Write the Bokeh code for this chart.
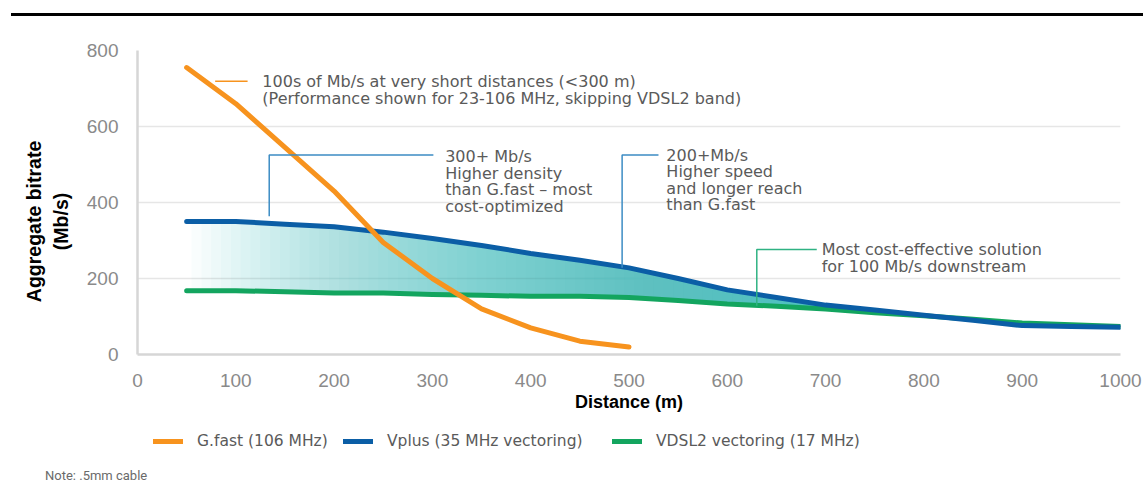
import numpy as np
from bokeh.plotting import figure
from bokeh.layouts import column
from bokeh.models import Range1d, Label, Legend, LegendItem, FixedTicker, Div
from bokeh.embed import file_html
from bokeh.resources import INLINE

# ---------------- data ----------------
distance = [50, 100, 150, 200, 250, 300, 350, 400, 450, 500,
            550, 600, 650, 700, 750, 800, 850, 900, 950, 1000]
gfast_distance = [50, 100, 150, 200, 250, 300, 350, 400, 450, 500]
gfast = [755, 660, 545, 430, 295, 200, 120, 70, 35, 20]
vplus = [350, 350, 343, 336, 322, 305, 287, 266, 248, 228,
         200, 170, 150, 130, 117, 103, 90, 76, 74, 72]
vdsl2 = [168, 168, 165, 162, 162, 158, 156, 153, 153, 150,
         142, 133, 127, 120, 110, 102, 93, 83, 78, 74]
x_ticks = [0, 100, 200, 300, 400, 500, 600, 700, 800, 900, 1000]
y_ticks = [0, 200, 400, 600, 800]
series_names = ["G.fast (106 MHz)", "Vplus (35 MHz vectoring)", "VDSL2 vectoring (17 MHz)"]

ORANGE = "#f7931e"
BLUE = "#0b5ea6"
GREEN = "#13a55f"
TEAL = "#3fb0b0"
LEAD_BLUE = "#3c8cc4"
LEAD_GREEN = "#2fb283"
TXT = "#5a5a5a"
FONT = "DejaVu Sans"

W = 1143
RH = 24     # top rule strip
MH = 402    # main chart
BH = 32     # legend strip
NH = 494 - RH - MH - BH  # note strip

# ---------------- top rule ----------------
rule = Div(text='<div style="width:1132px;height:3px;background:#000;'
                'margin-left:11px;margin-top:13px"></div>',
           width=W, height=RH, margin=0)

# ---------------- main chart ----------------
FL, FT, FR, FB = 137, 26, 23, 72
FH = MH - FT - FB

p = figure(width=W, height=MH, x_range=Range1d(0, 1000), y_range=Range1d(0, 800),
           output_backend="svg", toolbar_location=None,
           min_border_left=FL, min_border_right=FR, min_border_top=FT, min_border_bottom=FB)
p.outline_line_color = None
p.background_fill_color = "white"
p.border_fill_color = "white"

for ax in (p.xaxis[0], p.yaxis[0]):
    ax.axis_line_color = "#d6d6d6"
    ax.axis_line_width = 2.5
    ax.major_tick_line_color = None
    ax.minor_tick_line_color = None
    ax.major_tick_out = 0
    ax.major_tick_in = 0
    ax.major_label_text_font = "Liberation Sans"
    ax.major_label_text_font_size = "19px"
    ax.major_label_text_color = "#8a8a8a"
    ax.axis_label_text_font = "Liberation Sans"
    ax.axis_label_text_font_style = "bold"
    ax.axis_label_text_color = "black"

p.xaxis[0].ticker = FixedTicker(ticks=x_ticks)
p.yaxis[0].ticker = FixedTicker(ticks=y_ticks)
p.xaxis[0].major_label_standoff = 19
p.yaxis[0].major_label_standoff = 19
p.xaxis[0].axis_label = "Distance (m)"
p.xaxis[0].axis_label_text_font_size = "18px"
p.xaxis[0].axis_label_standoff = 2
nb = "\u00a0" * 7
p.yaxis[0].axis_label = "Aggregate bitrate" + nb + "\n(Mb/s)" + nb
p.yaxis[0].axis_label_text_font_size = "19.5px"
p.yaxis[0].axis_label_standoff = 12

p.xgrid.grid_line_color = None
p.ygrid.grid_line_color = "#e6e6e6"
p.ygrid.grid_line_width = 1.5

# gradient fill between VDSL2 and Vplus (stacked translucent layers)
fine_x = np.arange(50, 1001, 5.0)
fine_top = np.interp(fine_x, distance, vplus)
fine_bot = np.interp(fine_x, distance, vdsl2)
starts = np.arange(55, 660, 10.0)
a = 1 - (1 - 0.85) ** (1.0 / len(starts))
for s in starts:
    m = fine_x >= s
    p.varea(x=fine_x[m], y1=fine_bot[m], y2=fine_top[m], fill_color=TEAL, fill_alpha=a)

p.line(distance, vdsl2, line_color=GREEN, line_width=5, line_cap="round", line_join="round")
p.line(distance, vplus, line_color=BLUE, line_width=5, line_cap="round", line_join="round")
p.line(gfast_distance, gfast, line_color=ORANGE, line_width=5, line_cap="round", line_join="round")

px_per_unit = FH / 800.0

def lines_text(x, y_top, texts, gap_px=16.5, size="16px"):
    gap = gap_px / px_per_unit
    for k, t in enumerate(texts):
        p.add_layout(Label(x=x, y=y_top - k * gap, text=t, text_font=FONT,
                           text_font_size=size, text_color=TXT, text_baseline="middle"))

p.line([79, 112], [719, 719], line_color=ORANGE, line_width=1.5)
lines_text(127, 719, ["100s of Mb/s at very short distances (<300 m)",
                      "(Performance shown for 23-106 MHz, skipping VDSL2 band)"], gap_px=17.5)
p.line([134, 134, 301], [364, 525, 525], line_color=LEAD_BLUE, line_width=1.5)
lines_text(313, 521, ["300+ Mb/s", "Higher density", "than G.fast \u2013 most", "cost-optimized"])
p.line([493, 493, 530], [228, 525, 525], line_color=LEAD_BLUE, line_width=1.5)
lines_text(538, 525, ["200+Mb/s", "Higher speed", "and longer reach", "than G.fast"])
p.line([630, 630, 691], [128, 276, 276], line_color=LEAD_GREEN, line_width=1.5)
lines_text(696, 276, ["Most cost-effective solution", "for 100 Mb/s downstream"])

# ---------------- legend strip ----------------
bot = figure(width=W, height=BH, x_range=Range1d(0, 1), y_range=Range1d(0, 1),
             output_backend="svg", toolbar_location=None,
             min_border_left=FL, min_border_right=FR, min_border_top=0, min_border_bottom=0)
bot.outline_line_color = None
bot.xaxis.visible = False
bot.yaxis.visible = False
bot.xgrid.visible = False
bot.ygrid.visible = False
legend_renderers = [bot.line(x=[np.nan], y=[np.nan], line_color=c, line_width=5, line_cap="round")
                    for c in (ORANGE, BLUE, GREEN)]
for r, name, x in zip(legend_renderers, series_names, [16, 206, 475]):
    lg = Legend(items=[LegendItem(label=name, renderers=[r])], location=(x, BH - 15 - 10),
                orientation="horizontal", padding=0, margin=0, border_line_color=None,
                background_fill_alpha=0, glyph_width=30, glyph_height=20, label_height=20,
                label_standoff=14, label_text_font=FONT, label_text_font_size="15.5px",
                label_text_color=TXT)
    bot.add_layout(lg, "center")

# ---------------- note strip ----------------
note = Div(text='<div style="font-family:Roboto,sans-serif;font-size:13px;line-height:15px;'
                'color:#6a6a6a;margin-left:45px;margin-top:10px;white-space:nowrap">'
                'Note: .5mm cable</div>',
           width=W, height=NH, margin=0)

layout = column(rule, p, bot, note, spacing=0)
open("out.html", "w").write(file_html(layout, INLINE))
